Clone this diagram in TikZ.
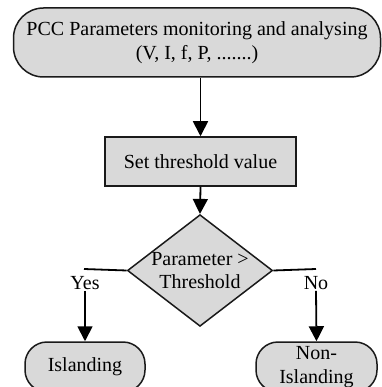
\documentclass[tikz,border=0pt]{standalone}
\usepackage{fontspec}
\setmainfont{Liberation Serif}
\usetikzlibrary{shapes.geometric,arrows.meta}
\definecolor{boxfill}{HTML}{D9D9D9}
\definecolor{edge}{HTML}{1A1A1A}
\begin{document}
\begin{tikzpicture}[x=1pt,y=-1pt,
  font=\fontsize{20}{23.5}\selectfont,
  shape box/.style={draw=edge,fill=boxfill,line width=1.5pt,align=center,inner sep=0pt},
  terminal/.style={shape box,rectangle,rounded corners=#1},
  decision/.style={shape box,diamond,shape aspect=1.3,minimum width=142,minimum height=111},
  flow/.style={draw=black,line width=1.8pt,-{Triangle[length=15pt,width=15pt]}},
  branch/.style={draw=black,line width=1.8pt},
  tag/.style={inner sep=1pt}]
  \useasboundingbox (0,0) rectangle (381,387);

  \node[terminal=30,minimum width=367,minimum height=69] (pcc) at (197,42.5)
    {PCC Parameters monitoring and analysing\\(V, I, f, P, .......)};
  \node[shape box,minimum width=191,minimum height=49] (thr) at (200.5,161.5)
    {Set threshold value};
  \node[decision] (dec) at (200,270.5) {Parameter >\\Threshold};
  \node[terminal=22,minimum width=120,minimum height=50] (isl) at (85,367) {Islanding};
  \node[terminal=22,minimum width=121,minimum height=50] (non) at (316.5,367) {Non-\\Islanding};

  \coordinate (ycorner) at (84,269);
  \coordinate (ncorner) at (316,269);
  \node[tag] (yes) at (85,283) {Yes};
  \node[tag] (no) at (316,283) {No};

  \draw[flow] (pcc.south -| thr.north) -- (thr.north);
  \draw[flow] (thr.south) -- (dec.north);
  \draw[branch] (dec.west) -- (ycorner);
  \draw[branch] (dec.east) -- (ncorner);
  \draw[flow] (yes.south) -- (isl.north);
  \draw[flow] (no.south) -- (non.north);
\end{tikzpicture}
\end{document}
